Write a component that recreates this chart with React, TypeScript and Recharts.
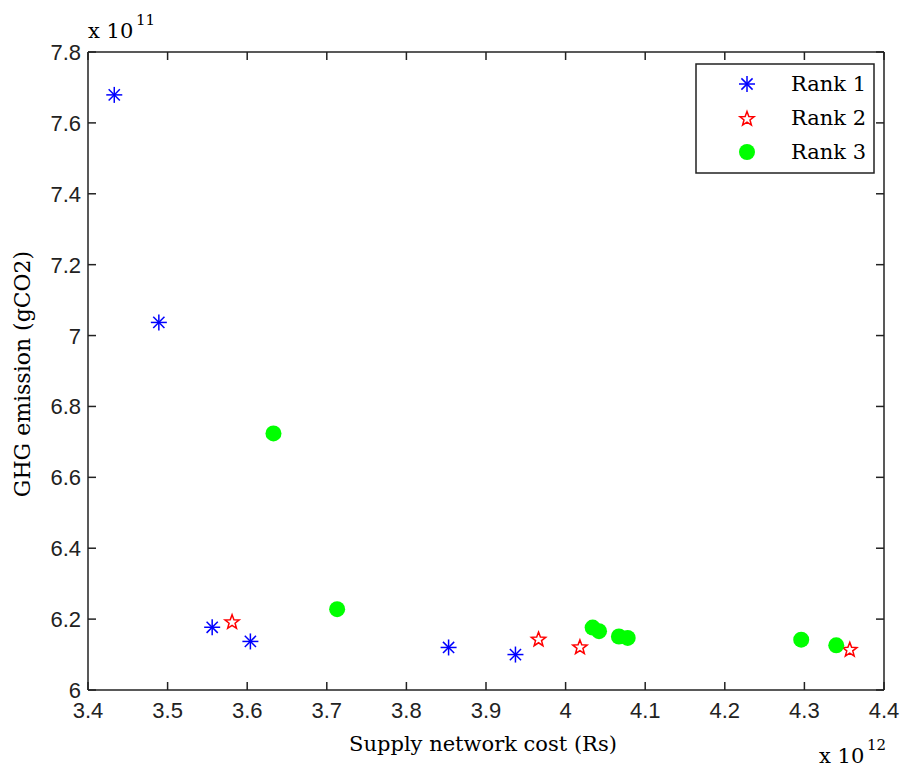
import React from 'react';
import { ScatterChart, Scatter, XAxis, YAxis, Legend } from 'recharts';

// x in units of 1e12 Rs, y in units of 1e11 gCO2
const rank1 = [
  { cost: 3.433, ghg: 7.679 },
  { cost: 3.489, ghg: 7.037 },
  { cost: 3.556, ghg: 6.177 },
  { cost: 3.604, ghg: 6.137 },
  { cost: 3.853, ghg: 6.12 },
  { cost: 3.937, ghg: 6.1 },
];

const rank2 = [
  { cost: 3.581, ghg: 6.194 },
  { cost: 3.966, ghg: 6.145 },
  { cost: 4.018, ghg: 6.123 },
  { cost: 4.357, ghg: 6.116 },
];

const rank3 = [
  { cost: 3.633, ghg: 6.724 },
  { cost: 3.713, ghg: 6.228 },
  { cost: 4.034, ghg: 6.176 },
  { cost: 4.042, ghg: 6.166 },
  { cost: 4.067, ghg: 6.151 },
  { cost: 4.078, ghg: 6.147 },
  { cost: 4.296, ghg: 6.142 },
  { cost: 4.34, ghg: 6.126 },
];

const xTicks = [3.4, 3.5, 3.6, 3.7, 3.8, 3.9, 4, 4.1, 4.2, 4.3, 4.4];
const yTicks = [6, 6.2, 6.4, 6.6, 6.8, 7, 7.2, 7.4, 7.6, 7.8];

const AX = '#222';
const TICK_FONT = "'Liberation Sans', Arial, sans-serif";
const SERIF = "'DejaVu Serif', serif";

const Asterisk = ({ cx, cy }: any) => {
  const r = 8;
  const d = 5.6;
  return (
    <g stroke="#0000ff" strokeWidth={1.5}>
      <line x1={cx - r} y1={cy} x2={cx + r} y2={cy} />
      <line x1={cx} y1={cy - r} x2={cx} y2={cy + r} />
      <line x1={cx - d} y1={cy - d} x2={cx + d} y2={cy + d} />
      <line x1={cx - d} y1={cy + d} x2={cx + d} y2={cy - d} />
    </g>
  );
};

const Pentagram = ({ cx, cy }: any) => {
  const R = 7.5;
  const r = R * 0.42;
  const pts: string[] = [];
  for (let i = 0; i < 10; i++) {
    const rad = i % 2 === 0 ? R : r;
    const a = -Math.PI / 2 + (i * Math.PI) / 5;
    pts.push(`${cx + rad * Math.cos(a)},${cy + 1 + rad * Math.sin(a)}`);
  }
  return <polygon points={pts.join(' ')} fill="none" stroke="#ff0000" strokeWidth={1.5} />;
};

const Dot = ({ cx, cy }: any) => <circle cx={cx} cy={cy} r={8} fill="#00ff00" />;

const BottomTick = ({ x, y, payload }: any) => (
  <g>
    <line x1={x} y1={y} x2={x} y2={y - 8} stroke={AX} strokeWidth={1.5} />
    <text x={x} y={y + 28} textAnchor="middle" fontFamily={TICK_FONT} fontSize={22} fill="#222">
      {payload.value}
    </text>
  </g>
);

const TopTick = ({ x, y }: any) => (
  <line x1={x} y1={y} x2={x} y2={y + 8} stroke={AX} strokeWidth={1.5} />
);

const LeftTick = ({ x, y, payload }: any) => (
  <g>
    <line x1={x} y1={y} x2={x + 8} y2={y} stroke={AX} strokeWidth={1.5} />
    <text x={x - 7} y={y + 8} textAnchor="end" fontFamily={TICK_FONT} fontSize={22} fill="#222">
      {payload.value}
    </text>
  </g>
);

const RightTick = ({ x, y }: any) => (
  <line x1={x} y1={y} x2={x - 8} y2={y} stroke={AX} strokeWidth={1.5} />
);

const legendItems = [
  { label: 'Rank 1', Shape: Asterisk },
  { label: 'Rank 2', Shape: Pentagram },
  { label: 'Rank 3', Shape: Dot },
];

const LegendBox = () => (
  <svg width={180} height={111} style={{ display: 'block' }}>
    <rect x={1} y={1} width={178} height={109} fill="#fff" stroke={AX} strokeWidth={1.5} />
    {legendItems.map((it, i) => (
      <g key={it.label}>
        <it.Shape cx={52} cy={21 + i * 34} />
        <text x={96} y={28 + i * 34} fontFamily={SERIF} fontSize={21} fill="#000">
          {it.label}
        </text>
      </g>
    ))}
  </svg>
);

export default function App() {
  return (
    <div style={{ position: 'absolute', left: 0, top: 0, background: '#fff' }}>
      <ScatterChart width={904} height={772} margin={{ top: 51, right: 0, bottom: 0, left: 0 }}>
        <XAxis
          xAxisId="b"
          type="number"
          dataKey="cost"
          orientation="bottom"
          domain={[3.4, 4.4]}
          ticks={xTicks}
          interval={0}
          allowDataOverflow
          height={82}
          tickSize={0}
          tickMargin={0}
          tickLine={false}
          axisLine={{ stroke: AX, strokeWidth: 1.5 }}
          tick={<BottomTick />}
          label={{
            content: ({ viewBox }: any) => (
              <g fontFamily={SERIF} fill="#000">
                <text x={viewBox.x + viewBox.width / 2 - 3} y={viewBox.y + 61} textAnchor="middle" fontSize={21}>
                  Supply network cost (Rs)
                </text>
                <text x={viewBox.x + viewBox.width - 65} y={viewBox.y + 73} fontSize={21}>
                  x 10
                </text>
                <text x={viewBox.x + viewBox.width - 17} y={viewBox.y + 60} fontSize={15}>
                  12
                </text>
              </g>
            ),
          }}
        />
        <XAxis
          xAxisId="t"
          type="number"
          dataKey="cost"
          orientation="top"
          domain={[3.4, 4.4]}
          ticks={xTicks}
          interval={0}
          allowDataOverflow
          height={1}
          tickSize={0}
          tickMargin={0}
          tickLine={false}
          axisLine={{ stroke: AX, strokeWidth: 1.5 }}
          tick={<TopTick />}
          label={{
            content: ({ viewBox }: any) => (
              <g fontFamily={SERIF} fill="#000">
                <text x={viewBox.x} y={viewBox.y - 13} fontSize={21}>
                  x 10
                </text>
                <text x={viewBox.x + 48} y={viewBox.y - 26} fontSize={15}>
                  11
                </text>
              </g>
            ),
          }}
        />
        <YAxis
          yAxisId="l"
          type="number"
          dataKey="ghg"
          orientation="left"
          domain={[6, 7.8]}
          ticks={yTicks}
          interval={0}
          allowDataOverflow
          width={88}
          tickSize={0}
          tickMargin={0}
          tickLine={false}
          axisLine={{ stroke: AX, strokeWidth: 1.5 }}
          tick={<LeftTick />}
          label={{
            content: ({ viewBox }: any) => (
              <text
                transform={`translate(30, ${viewBox.y + viewBox.height / 2 + 3}) rotate(-90)`}
                textAnchor="middle"
                fontFamily={SERIF}
                fontSize={22}
                fill="#000"
              >
                GHG emission (gCO2)
              </text>
            ),
          }}
        />
        <YAxis
          yAxisId="r"
          type="number"
          dataKey="ghg"
          orientation="right"
          domain={[6, 7.8]}
          ticks={yTicks}
          interval={0}
          allowDataOverflow
          width={20}
          tickSize={0}
          tickMargin={0}
          tickLine={false}
          axisLine={{ stroke: AX, strokeWidth: 1.5 }}
          tick={<RightTick />}
        />
        <Legend
          layout="vertical"
          align="center"
          verticalAlign="middle"
          content={<LegendBox />}
          wrapperStyle={{ position: 'absolute', left: 695, top: 63, width: 180, height: 111 }}
        />
        <Scatter name="Rank 1" data={rank1} xAxisId="b" yAxisId="l" shape={<Asterisk />} isAnimationActive={false} />
        <Scatter name="Rank 2" data={rank2} xAxisId="b" yAxisId="l" shape={<Pentagram />} isAnimationActive={false} />
        <Scatter name="Rank 3" data={rank3} xAxisId="b" yAxisId="l" shape={<Dot />} isAnimationActive={false} />
      </ScatterChart>
    </div>
  );
}
